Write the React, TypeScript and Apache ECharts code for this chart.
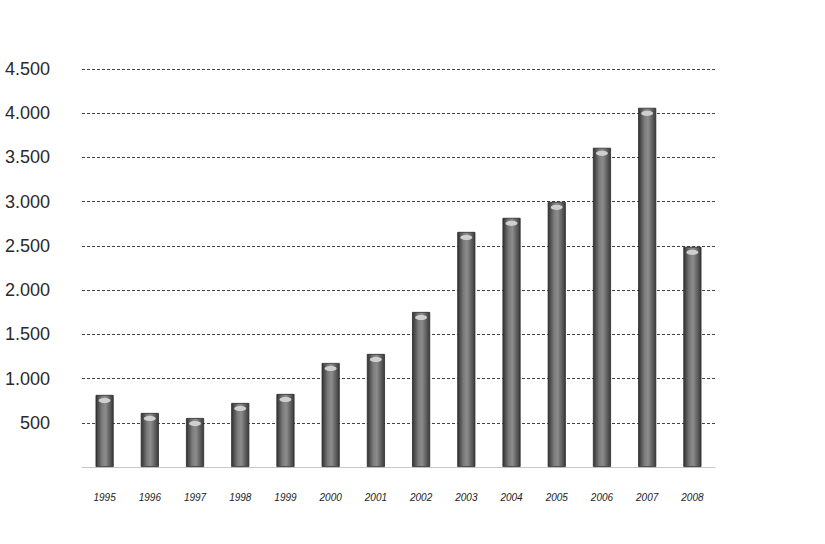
import React, { useEffect, useRef } from "react";
import * as echarts from "echarts";

const years = ["1995", "1996", "1997", "1998", "1999", "2000", "2001", "2002", "2003", "2004", "2005", "2006", "2007", "2008"];
const values = [815, 611, 554, 724, 826, 1176, 1278, 1753, 2658, 2817, 2998, 3609, 4061, 2489];
const yTicks = { min: 0, max: 4500, interval: 500 };

function fmt(v: number): string {
  return String(v).replace(/\B(?=(\d{3})+(?!\d))/g, ".");
}

export default function App() {
  const ref = useRef<HTMLDivElement>(null);
  useEffect(() => {
    if (!ref.current) return;
    const chart = echarts.init(ref.current, undefined, { renderer: "svg" });
    chart.setOption({
      animation: false,
      backgroundColor: "#ffffff",
      grid: { left: 82, right: 110, top: 69, bottom: 77 },
      xAxis: {
        type: "category",
        data: years,
        axisLine: { show: true, lineStyle: { color: "#c8c8c8", width: 1 } },
        axisTick: { show: false },
        axisLabel: {
          margin: 25,
          fontSize: 10,
          fontStyle: "italic",
          color: "#222",
          fontFamily: "Liberation Sans Narrow, Liberation Sans, sans-serif",
        },
      },
      yAxis: {
        type: "value",
        min: yTicks.min,
        max: yTicks.max,
        interval: yTicks.interval,
        axisLine: { show: false },
        axisTick: { show: false },
        axisLabel: {
          showMinLabel: false,
          margin: 32,
          fontSize: 18,
          color: "#2a2a2a",
          fontFamily: "Liberation Sans, sans-serif",
          formatter: (v: number) => fmt(v),
        },
        splitLine: { lineStyle: { color: "#444", type: [3, 2], width: 1 } },
      },
      series: [
        {
          type: "bar",
          data: values,
          barWidth: "40%",
          itemStyle: {
            borderColor: "#2a2a2a",
            borderWidth: 0.8,
            color: new echarts.graphic.LinearGradient(0, 0, 1, 0, [
              { offset: 0, color: "#333333" },
              { offset: 0.35, color: "#7d7d7d" },
              { offset: 0.55, color: "#8c8c8c" },
              { offset: 1, color: "#3a3a3a" },
            ]),
          },
          z: 2,
        },
        {
          type: "pictorialBar",
          data: values,
          symbol: "circle",
          symbolSize: [12, 5],
          symbolPosition: "end",
          symbolOffset: [0, 3],
          itemStyle: { color: "#cfcfcf" },
          barGap: "-100%",
          z: 3,
        },
      ],
    });
    return () => chart.dispose();
  }, []);
  return (
    <div
      ref={ref}
      style={{ position: "fixed", left: 0, top: 0, width: 825, height: 544 }}
    />
  );
}
